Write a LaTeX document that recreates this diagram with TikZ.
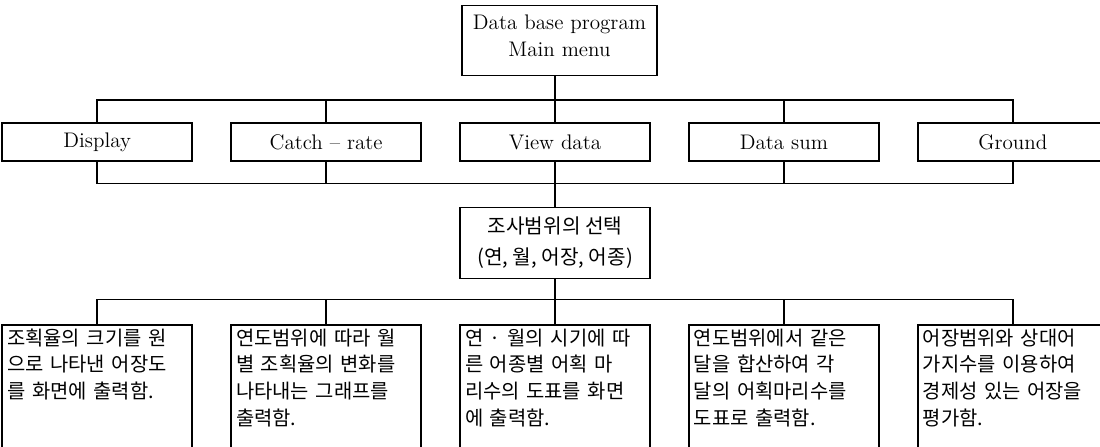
\documentclass[tikz,border=0pt]{standalone}
\usepackage{fontspec}
\newfontfamily\krfont{Noto Sans CJK KR}
\usetikzlibrary{positioning}

% one full, spread-out line of a description box
\newcommand{\fullline}[1]{\makebox[3.6cm][s]{#1}}

\tikzset{
  menubox/.style={draw, line width=0.8pt, minimum width=3.8cm, minimum height=0.76cm, inner sep=0pt, font=\fontsize{12}{15}\selectfont},
  topbox/.style={menubox, minimum width=3.9cm, minimum height=1.4cm, align=center, font=\fontsize{12}{15.3}\selectfont},
  selbox/.style={menubox, minimum height=1.42cm, align=center, font=\krfont\fontsize{11.5}{17.5}\selectfont},
  descbox/.style={draw, line width=0.8pt, anchor=north, text width=3.6cm, inner xsep=0.1cm, inner ysep=1pt, text height=10.6pt, text depth=2.6cm, align=left, font=\krfont\fontsize{11.3}{15.2}\selectfont},
  link/.style={line width=0.8pt}
}

\begin{document}
\begin{tikzpicture}[node distance=0.9cm and 0.75cm]
    \useasboundingbox (0,0) rectangle (22,-8.92);
    \clip (0,0) rectangle (22,-8.92);

    % menu row
    \node[menubox] (view) at (11.1,-2.84) {View data};
    \node[menubox, left=of view] (catch) {Catch -- rate};
    \node[menubox, left=of catch] (disp) {Display};
    \node[menubox, right=of view] (dsum) {Data sum};
    \node[menubox, right=of dsum] (ground) {Ground};

    \node[topbox, above=0.92cm of view, xshift=0.09cm] (main) {Data base program\\Main menu\rule[-6pt]{0pt}{0pt}};
    \node[selbox, below=of view] (sel) {조사범위의 선택\\(연, 월, 어장, 어종)};

    % description boxes
    \node[descbox, below=of sel] (d3) {\fullline{연 · 월의 시기에 따}\\\fullline{른 어종별 어획 마}\\\fullline{리수의 도표를 화면}\\에 출력함.};
    \node[descbox] (d1) at (disp |- d3.north) {\fullline{조획율의 크기를 원}\\\fullline{으로 나타낸 어장도}\\를 화면에 출력함.};
    \node[descbox] (d2) at (catch |- d3.north) {\fullline{연도범위에 따라 월}\\\fullline{별 조획율의 변화를}\\\fullline{나타내는 그래프를}\\출력함.};
    \node[descbox] (d4) at (dsum |- d3.north) {\fullline{연도범위에서 같은}\\\fullline{달을 합산하여 각}\\\fullline{달의 어획마리수를}\\도표로 출력함.};
    \node[descbox] (d5) at (ground |- d3.north) {\fullline{어장범위와 상대어}\\\fullline{가지수를 이용하여}\\\fullline{경제성 있는 어장을}\\평가함.};

    \coordinate (busA) at (0,-2.0);
    \coordinate (busB) at (0,-3.67);
    \coordinate (busC) at (0,-5.99);

    % connectors
    \draw[link] (main.south -| view) -- (view.north);
    \draw[link] (disp.north) |- (ground.north |- busA) -- (ground.north);
    \foreach \n in {catch,dsum}
        \draw[link] (\n.north |- busA) -- (\n.north);

    \draw[link] (disp.south) |- (ground.south |- busB) -- (ground.south);
    \foreach \n in {catch,view,dsum}
        \draw[link] (\n.south) -- (\n.south |- busB);
    \draw[link] (view.south |- busB) -- (sel.north);

    \draw[link] (sel.south) -- (d3.north);
    \draw[link] (d1.north) |- (d5.north |- busC) -- (d5.north);
    \foreach \n in {d2,d4}
        \draw[link] (\n.north |- busC) -- (\n.north);
\end{tikzpicture}
\end{document}
